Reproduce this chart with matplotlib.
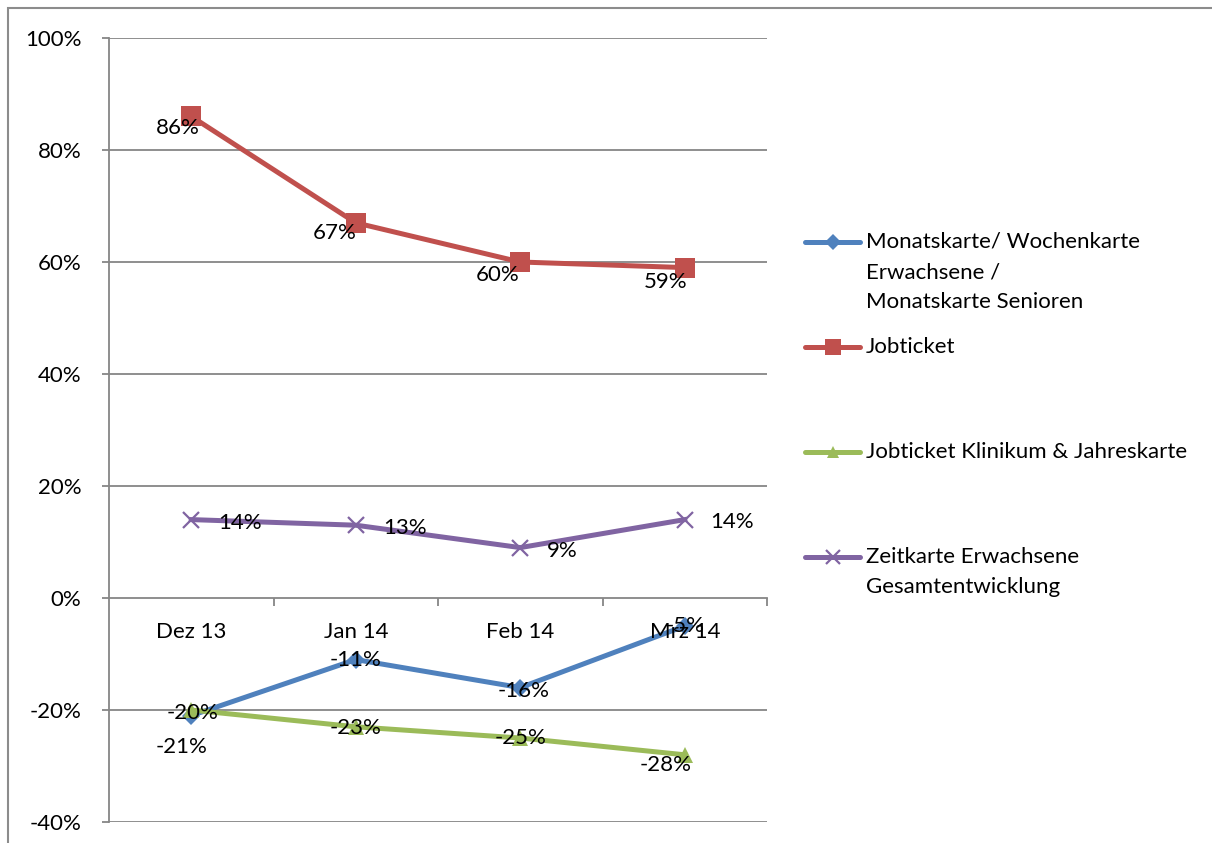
import matplotlib
matplotlib.use("Agg")
import matplotlib.pyplot as plt
from matplotlib.lines import Line2D
from matplotlib.patches import Rectangle

W, H, DPI = 1212, 843, 100

# ---- data -------------------------------------------------------------
categories = ["Dez 13", "Jan 14", "Feb 14", "Mrz 14"]
monatskarte = [-21, -11, -16, -5]
jobticket = [86, 67, 60, 59]
klinikum = [-20, -23, -25, -28]
zeitkarte = [14, 13, 9, 14]
series_labels = [
    "Monatskarte/ Wochenkarte\nErwachsene /\nMonatskarte Senioren",
    "Jobticket",
    "Jobticket Klinikum & Jahreskarte",
    "Zeitkarte Erwachsene\nGesamtentwicklung",
]
y_ticks = [-40, -20, 0, 20, 40, 60, 80, 100]

# ---- styling ------------------------------------------------------------
FONT = "Lato"
FS = 16
plt.rcParams["font.family"] = [FONT, "DejaVu Sans"]
GRID = "#868686"

styles = [
    dict(color="#4F81BD", marker="D", ms=9.5),
    dict(color="#C0504D", marker="s", ms=14),
    dict(color="#9BBB59", marker="^", ms=11),
    dict(color="#8064A2", marker="x", ms=12, mew=1.6),
]
# label offsets in pixels (dx, dy, ha)
label_offsets = [
    [(-10, -31, "center"), (0, 0, "center"), (3, -3, "center"), (0, 0, "center")],
    [(-13, -12, "center"), (-21, -10, "center"), (-23, -13, "center"), (-19, -14, "center")],
    [(1, -3, "center"), (0, -1, "center"), (0, 0, "center"), (-19, -10, "center")],
    [(27, -3, "left"), (27, -3, "left"), (27, -3, "left"), (25, -2, "left")],
]

fig = plt.figure(figsize=(W / DPI, H / DPI), dpi=DPI)


def fx(x):
    return x / W


def fy(y):
    return 1 - y / H


# outer chart border
fig.patches.append(Rectangle((fx(8), fy(H + 10)), fx(W + 10) - fx(8), fy(8) - fy(H + 10),
                             transform=fig.transFigure, fill=False,
                             edgecolor="#8c8c8c", lw=1.5))

ax = fig.add_axes([fx(109), fy(822), fx(767) - fx(109), fy(38) - fy(822)])
ax.set_xlim(-0.5, 3.5)
ax.set_ylim(-40, 100)

# gridlines (except the zero line which is the category axis)
for t in y_ticks:
    if t != 0:
        ax.axhline(t, color=GRID, lw=1.3, zorder=0)

for s in ["top", "right"]:
    ax.spines[s].set_visible(False)
ax.spines["left"].set_color(GRID)
ax.spines["left"].set_linewidth(1.3)
ax.spines["bottom"].set_position(("data", 0))
ax.spines["bottom"].set_color(GRID)
ax.spines["bottom"].set_linewidth(1.3)

ax.set_yticks(y_ticks)
ax.set_yticklabels([f"{t}%" for t in y_ticks], fontsize=FS)
ax.tick_params(axis="y", length=5, width=1.3, color=GRID, pad=15)
ax.set_xticks([0.5, 1.5, 2.5, 3.5])
ax.set_xticklabels([])
ax.tick_params(axis="x", length=6, width=1.3, color=GRID, direction="out")

# category names under the zero line
for i, c in enumerate(categories):
    ax.annotate(c, (i, 0), xytext=(0, -34), textcoords="offset pixels",
                ha="center", va="center", fontsize=FS, zorder=6)

xs = list(range(len(categories)))
all_series = [monatskarte, jobticket, klinikum, zeitkarte]
for vals, st, offs in zip(all_series, styles, label_offsets):
    ax.plot(xs, vals, color=st["color"], lw=3.6, marker=st["marker"],
            ms=st["ms"], mew=st.get("mew", 0), mec=st["color"],
            mfc=st["color"], zorder=4, clip_on=False)
    for x, v, (dx, dy, ha) in zip(xs, vals, offs):
        ax.annotate(f"{v}%", (x, v), xytext=(dx, dy), textcoords="offset pixels",
                    ha=ha, va="center", fontsize=FS, zorder=7)

# legend drawn entry by entry
legend_rows = [242, 347, 452, 557]
for lab, st, yrow in zip(series_labels, styles, legend_rows):
    fig.lines.append(Line2D([fx(805), fx(860)], [fy(yrow), fy(yrow)],
                            transform=fig.transFigure, color=st["color"], lw=3.6,
                            solid_capstyle="round"))
    fig.lines.append(Line2D([fx(833)], [fy(yrow)], transform=fig.transFigure,
                            color=st["color"], marker=st["marker"],
                            ms=st["ms"] * 0.85, mew=st.get("mew", 0),
                            mec=st["color"], mfc=st["color"], lw=0))
    for k, line in enumerate(lab.split("\n")):
        fig.text(fx(866), fy(yrow + 30 * k), line, ha="left", va="center",
                 fontsize=FS)

fig.savefig("out.png", dpi=DPI)
